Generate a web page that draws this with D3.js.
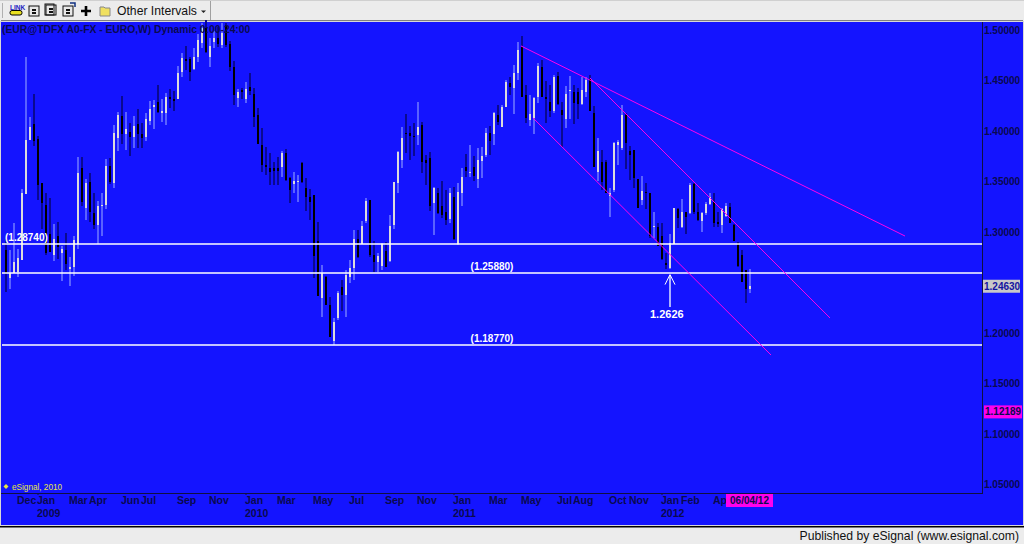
<!DOCTYPE html>
<html><head><meta charset="utf-8">
<script src="https://cdn.jsdelivr.net/npm/d3@7"></script>
<style>html,body{margin:0;padding:0;background:#f0f0f0;overflow:hidden}svg{display:block}text{font-family:"Liberation Sans",Arial,sans-serif}</style>
</head><body><svg id="c" width="1024" height="544"></svg>
<script>
const highs=[1.293,1.282,1.308,1.283,1.342,1.473,1.413,1.436,1.395,1.348,1.338,1.333,1.307,1.309,1.286,1.299,1.275,1.296,1.374,1.374,1.352,1.358,1.338,1.330,1.338,1.372,1.373,1.405,1.418,1.434,1.418,1.407,1.414,1.421,1.407,1.417,1.429,1.430,1.445,1.431,1.437,1.441,1.439,1.464,1.477,1.484,1.473,1.482,1.496,1.506,1.509,1.492,1.499,1.502,1.506,1.506,1.489,1.469,1.441,1.442,1.448,1.457,1.442,1.422,1.402,1.384,1.378,1.369,1.374,1.380,1.382,1.354,1.359,1.356,1.369,1.353,1.342,1.336,1.309,1.267,1.256,1.235,1.214,1.241,1.252,1.262,1.272,1.301,1.301,1.310,1.333,1.331,1.291,1.279,1.289,1.290,1.316,1.349,1.380,1.403,1.416,1.404,1.407,1.428,1.408,1.376,1.379,1.344,1.343,1.350,1.341,1.343,1.344,1.348,1.363,1.377,1.386,1.375,1.383,1.384,1.402,1.404,1.418,1.425,1.425,1.450,1.453,1.465,1.488,1.494,1.445,1.435,1.433,1.467,1.470,1.449,1.445,1.455,1.458,1.428,1.444,1.454,1.445,1.442,1.453,1.453,1.455,1.424,1.393,1.381,1.371,1.343,1.389,1.391,1.425,1.417,1.385,1.381,1.352,1.355,1.348,1.338,1.319,1.308,1.308,1.279,1.298,1.323,1.323,1.332,1.319,1.348,1.348,1.328,1.319,1.329,1.338,1.338,1.319,1.323,1.328,1.328,1.307,1.290,1.282,1.262,1.263];
const lows=[1.240,1.243,1.259,1.255,1.272,1.337,1.391,1.385,1.331,1.302,1.277,1.280,1.271,1.273,1.251,1.262,1.246,1.256,1.283,1.325,1.311,1.309,1.302,1.288,1.296,1.322,1.347,1.343,1.380,1.387,1.381,1.375,1.383,1.383,1.383,1.390,1.405,1.401,1.417,1.408,1.405,1.422,1.419,1.431,1.453,1.460,1.449,1.460,1.468,1.482,1.477,1.463,1.482,1.483,1.482,1.483,1.459,1.425,1.423,1.431,1.427,1.435,1.403,1.387,1.359,1.356,1.346,1.346,1.346,1.354,1.350,1.328,1.338,1.329,1.348,1.320,1.311,1.254,1.236,1.215,1.227,1.196,1.188,1.212,1.221,1.215,1.249,1.252,1.274,1.288,1.308,1.275,1.260,1.260,1.262,1.265,1.270,1.302,1.338,1.363,1.378,1.371,1.375,1.386,1.358,1.346,1.320,1.297,1.317,1.313,1.306,1.308,1.292,1.287,1.325,1.354,1.354,1.350,1.343,1.353,1.374,1.376,1.386,1.405,1.403,1.423,1.435,1.416,1.450,1.433,1.407,1.404,1.397,1.427,1.433,1.407,1.413,1.417,1.425,1.384,1.402,1.411,1.406,1.411,1.425,1.433,1.419,1.364,1.350,1.341,1.338,1.314,1.339,1.366,1.381,1.362,1.351,1.343,1.323,1.326,1.322,1.294,1.294,1.286,1.272,1.263,1.263,1.288,1.303,1.303,1.298,1.317,1.317,1.310,1.300,1.316,1.326,1.304,1.304,1.299,1.314,1.308,1.291,1.265,1.250,1.229,1.239];
const opens=[1.282,1.254,1.259,1.260,1.272,1.337,1.391,1.406,1.392,1.348,1.326,1.298,1.277,1.296,1.279,1.282,1.263,1.265,1.288,1.363,1.323,1.349,1.318,1.306,1.325,1.326,1.365,1.348,1.393,1.414,1.397,1.399,1.394,1.406,1.397,1.394,1.409,1.423,1.428,1.417,1.417,1.433,1.431,1.431,1.458,1.471,1.471,1.461,1.473,1.487,1.501,1.473,1.488,1.492,1.485,1.504,1.486,1.463,1.432,1.440,1.431,1.443,1.436,1.415,1.386,1.366,1.363,1.363,1.363,1.364,1.378,1.353,1.347,1.349,1.368,1.343,1.334,1.336,1.291,1.234,1.255,1.227,1.192,1.214,1.245,1.237,1.255,1.264,1.293,1.288,1.310,1.331,1.277,1.270,1.266,1.281,1.271,1.306,1.348,1.371,1.398,1.398,1.395,1.396,1.405,1.371,1.373,1.328,1.338,1.325,1.319,1.312,1.334,1.288,1.338,1.364,1.358,1.364,1.352,1.370,1.376,1.398,1.397,1.415,1.403,1.423,1.447,1.442,1.457,1.483,1.435,1.410,1.412,1.433,1.463,1.433,1.428,1.419,1.454,1.420,1.411,1.439,1.438,1.438,1.426,1.438,1.451,1.417,1.359,1.369,1.369,1.335,1.341,1.386,1.383,1.415,1.380,1.381,1.352,1.331,1.339,1.338,1.304,1.304,1.296,1.269,1.264,1.288,1.322,1.304,1.319,1.318,1.347,1.319,1.310,1.318,1.327,1.329,1.309,1.306,1.315,1.324,1.306,1.289,1.277,1.262,1.243];
const closes=[1.259,1.259,1.270,1.274,1.338,1.391,1.403,1.390,1.346,1.328,1.279,1.280,1.293,1.285,1.283,1.268,1.265,1.292,1.358,1.329,1.348,1.319,1.306,1.325,1.326,1.365,1.349,1.398,1.415,1.397,1.401,1.394,1.404,1.397,1.393,1.411,1.421,1.425,1.418,1.419,1.433,1.431,1.429,1.457,1.472,1.469,1.458,1.473,1.490,1.501,1.478,1.484,1.492,1.486,1.497,1.485,1.463,1.435,1.438,1.438,1.441,1.439,1.413,1.387,1.366,1.364,1.359,1.360,1.360,1.378,1.351,1.341,1.350,1.350,1.349,1.334,1.329,1.276,1.236,1.259,1.227,1.196,1.210,1.239,1.237,1.257,1.264,1.293,1.275,1.305,1.330,1.277,1.270,1.276,1.288,1.265,1.305,1.349,1.379,1.393,1.397,1.395,1.394,1.403,1.369,1.368,1.325,1.343,1.318,1.316,1.311,1.338,1.293,1.339,1.354,1.360,1.359,1.355,1.371,1.375,1.398,1.390,1.417,1.408,1.423,1.448,1.443,1.457,1.480,1.433,1.412,1.416,1.432,1.464,1.433,1.431,1.419,1.453,1.426,1.415,1.436,1.440,1.427,1.426,1.440,1.450,1.419,1.364,1.380,1.349,1.338,1.338,1.388,1.389,1.415,1.388,1.376,1.353,1.323,1.340,1.338,1.296,1.305,1.286,1.273,1.267,1.289,1.323,1.313,1.319,1.314,1.346,1.319,1.311,1.318,1.327,1.334,1.308,1.307,1.322,1.325,1.308,1.291,1.266,1.250,1.243,1.2463];
const priceTicks=[1.5,1.45,1.4,1.35,1.3,1.2,1.15,1.1,1.05];
const monthLabels=["Dec","Jan","Mar","Apr","Jun","Jul","Sep","Nov","Jan","Mar","May","Jul","Sep","Nov","Jan","Mar","May","Jul","Aug","Oct","Nov","Jan","Feb","Ap"];
const monthWeeks=[3,8,16,21,29,34,43,51,60,68,77,86,95,103,112,121,129,138,142,151,156,164,169,177];
const yearLabels=["2009","2010","2011","2012"];
const yearWeeks=[8,60,112,164];
const levels=[1.2874,1.2588,1.1877];
const levelNames=["(1.28740)","(1.25880)","(1.18770)"];
const levelLabelWeeks=[0,116,116];
const trendStartWeek=[128.75,146,131.75],trendEndWeek=[224.75,206,191.25];
const trendStartPrice=[1.4837,1.452,1.4124],trendEndPrice=[1.2955,1.2144,1.1777];
const lastPrice=1.2463,markerPrice=1.12189,lowNotePrice=1.2626,noteWeek=166,lastDate="06/04/12";

const svg=d3.select("#c");
const x=d3.scaleLinear().domain([0,186]).range([6,750]);
const y=d3.scaleLinear().domain([1.5,1.05]).range([29.5,484]);
const W=982,B=493,axisInk="#0a0a50";
// chrome
svg.append("rect").attr("width",1024).attr("height",544).attr("fill","#ececec");
svg.append("rect").attr("x",0).attr("y",0).attr("width",1024).attr("height",1).attr("fill","#d0d0d0");
svg.append("rect").attr("x",210).attr("y",1).attr("width",1).attr("height",19).attr("fill","#a0a0a0");
svg.append("rect").attr("x",2).attr("y",3).attr("width",1).attr("height",15).attr("fill","#b0b0b0");
svg.append("rect").attr("x",1).attr("y",20).attr("width",1022).attr("height",2).attr("fill","#808080");
svg.append("rect").attr("x",0).attr("y",21).attr("width",1024).attr("height",505).attr("fill","#d8d8d8");
svg.append("rect").attr("x",1).attr("y",22).attr("width",1022).attr("height",503).attr("fill","#1414ff");
svg.append("rect").attr("x",0).attr("y",526).attr("width",1024).attr("height",1.5).attr("fill","#000");
// toolbar icons
const tb=svg.append("g");
tb.append("text").attr("x",10).attr("y",10).attr("font-size",6.5).attr("font-weight","bold").attr("fill","#2020c0").text("LINK");
tb.append("rect").attr("x",10).attr("y",10.5).attr("width",12).attr("height",4.5).attr("rx",2).attr("fill","#e8e020").attr("stroke","#000");
[[29,6],[46,5],[63,6]].forEach(([a,b])=>{
 tb.append("rect").attr("x",a).attr("y",b).attr("width",10).attr("height",10).attr("fill","#e8e8e8").attr("stroke","#111");
 tb.append("path").attr("d",`M${a+3} ${b+3}h4v2h-4zM${a+3} ${b+6}h4v2h-4z`).attr("fill","#111");
});
tb.append("rect").attr("x",45).attr("y",4).attr("width",9).attr("height",11).attr("fill","none").attr("stroke","#111");
tb.append("path").attr("d","M70 3h5v4").attr("fill","none").attr("stroke","#103080").attr("stroke-width",1.5);
tb.append("path").attr("d","M81 11H91M86 6V16").attr("stroke","#000").attr("stroke-width",2.6).attr("fill","none");
tb.append("path").attr("d","M100 7H104L105 8H110V16H100Z").attr("fill","#f0e060").attr("stroke","#888");
tb.append("text").attr("x",117).attr("y",15).attr("font-size",12.2).attr("fill","#111").text("Other Intervals");
tb.append("path").attr("d","M201 10.5h5l-2.5 2.5z").attr("fill","#222");
// axis frame
svg.append("line").attr("x1",W+.5).attr("x2",W+.5).attr("y1",22).attr("y2",B+1).attr("stroke","#101040").attr("stroke-width",1);
svg.append("line").attr("x1",1).attr("x2",W+1).attr("y1",B+.5).attr("y2",B+.5).attr("stroke","#101040").attr("stroke-width",1);
// candles
const idx=d3.range(highs.length);
const crisp=svg.append("g").attr("shape-rendering","crispEdges");
const up=i=>closes[i]>=opens[i];
crisp.selectAll("rect.w").data(idx).join("rect").attr("class","w")
 .attr("x",i=>x(i)-1).attr("width",2)
 .attr("y",i=>y(highs[i])).attr("height",i=>Math.max(1,y(lows[i])-y(highs[i])))
 .attr("fill",i=>up(i)?"#5a62ff":"#0a0a90");
crisp.selectAll("rect.b").data(idx).join("rect").attr("class","b")
 .attr("x",i=>x(i)-1).attr("width",2)
 .attr("y",i=>y(Math.max(opens[i],closes[i]))).attr("height",i=>Math.max(1,Math.abs(y(opens[i])-y(closes[i]))))
 .attr("fill",i=>up(i)?"#dcdcdc":"#000");
// levels
svg.selectAll("line.l").data(levels).join("line").attr("class","l")
 .attr("x1",2).attr("x2",W).attr("y1",d=>Math.round(y(d))).attr("y2",d=>Math.round(y(d)))
 .attr("stroke","#fff").attr("stroke-width",1.7);
svg.selectAll("text.l").data(levels).join("text").attr("class","l")
 .attr("x",(d,i)=>i==0?5:x(levelLabelWeeks[i])+22).attr("y",d=>y(d)-3).attr("font-size",10).attr("font-weight","bold").attr("fill","#fff")
 .attr("text-anchor",(d,i)=>i==0?"start":"middle").text((d,i)=>levelNames[i]);
// trend lines
svg.selectAll("line.t").data(trendStartWeek).join("line").attr("class","t")
 .attr("x1",d=>x(d)).attr("y1",(d,i)=>y(trendStartPrice[i]))
 .attr("x2",(d,i)=>x(trendEndWeek[i])).attr("y2",(d,i)=>y(trendEndPrice[i]))
 .attr("stroke","#ff00ee").attr("stroke-width",1);
// annotation
const ax=x(noteWeek),ay=y(levels[1])+1.5;
svg.append("line").attr("x1",ax).attr("x2",ax).attr("y1",ay+1).attr("y2",307).attr("stroke","#aab0ff").attr("stroke-width",2);
svg.append("path").attr("d",`M${ax-5} ${ay+10}L${ax} ${ay}L${ax+5} ${ay+10}`).attr("fill","none").attr("stroke","#fff").attr("stroke-width",1);
svg.append("text").attr("x",ax-20).attr("y",318).attr("font-size",11).attr("font-weight","bold").attr("fill","#fff").text(lowNotePrice.toFixed(4));
// title etc
svg.append("text").attr("x",2).attr("y",33).attr("font-size",10.3).attr("font-weight","bold").attr("fill",axisInk).text("(EUR@TDFX A0-FX - EURO,W) Dynamic 0:00-24:00");
svg.append("text").attr("x",12).attr("y",490).attr("font-size",8.2).attr("fill","#e8e840").text("eSignal, 2010");
svg.append("path").attr("d","M6 484l2.5 2.5l-2.5 2.5l-2.5-2.5z").attr("fill","#e8e840");
// y axis labels
svg.append("g").selectAll("text").data(priceTicks).join("text").attr("x",984).attr("y",d=>y(d)+4).attr("font-size",10).attr("font-weight","bold").attr("fill",axisInk).text(d=>d.toFixed(5));
svg.append("rect").attr("x",983).attr("y",y(lastPrice)-6).attr("width",37).attr("height",13).attr("fill","#c8c8c8");
svg.append("text").attr("x",984).attr("y",y(lastPrice)+4).attr("font-size",10).attr("font-weight","bold").attr("fill","#1414a0").text(lastPrice.toFixed(5));
svg.append("rect").attr("x",984).attr("y",y(markerPrice)-6).attr("width",38).attr("height",13).attr("fill","#ff00ee");
svg.append("text").attr("x",985).attr("y",y(markerPrice)+4).attr("font-size",10).attr("font-weight","bold").attr("fill",axisInk).text(markerPrice.toFixed(5));
// x axis labels
svg.selectAll("text.m").data(monthLabels).join("text").attr("class","m").attr("x",(d,i)=>x(monthWeeks[i])-1).attr("y",504).attr("font-size",10.5).attr("font-weight","bold").attr("fill",axisInk).text(d=>d);
svg.selectAll("text.yr").data(yearLabels).join("text").attr("class","yr").attr("x",(d,i)=>x(yearWeeks[i])-1).attr("y",517).attr("font-size",10.5).attr("font-weight","bold").attr("fill",axisInk).text(d=>d);
svg.selectAll("line.yt").data(yearWeeks).join("line").attr("class","yt").attr("x1",d=>x(d)).attr("x2",d=>x(d)).attr("y1",493).attr("y2",495).attr("stroke","#101040");
svg.append("rect").attr("x",726).attr("y",494).attr("width",47).attr("height",13).attr("fill","#ff00ee");
svg.append("text").attr("x",749.5).attr("y",504).attr("text-anchor","middle").attr("font-size",10).attr("fill",axisInk).attr("font-weight","bold").text(lastDate);
// status
svg.append("text").attr("x",1019).attr("y",540).attr("text-anchor","end").attr("font-size",12.2).attr("fill","#111").text("Published by eSignal (www.esignal.com)");
</script></body></html>
